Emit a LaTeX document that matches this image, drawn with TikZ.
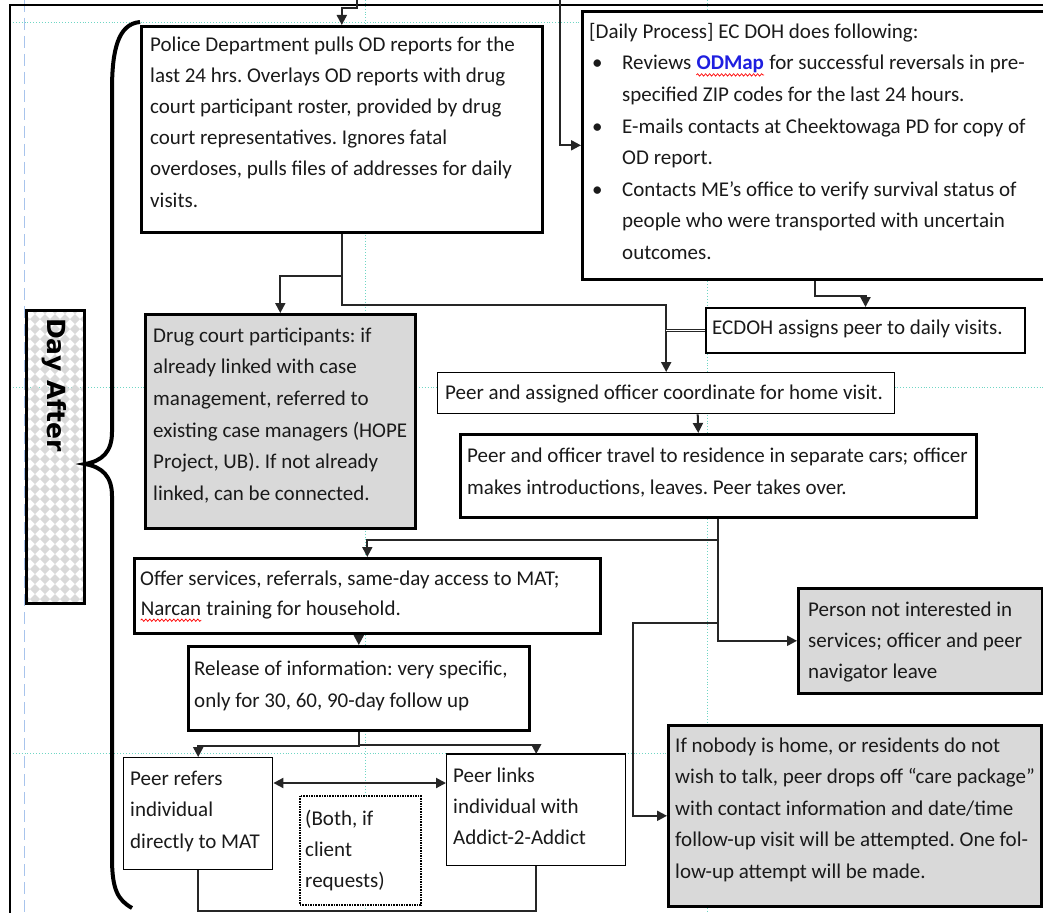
\documentclass[tikz,border=0pt]{standalone}
\usepackage{fontspec}
\setmainfont{Carlito}
\newfontfamily\dayfont{DejaVu Sans}
\usetikzlibrary{arrows.meta,calc,decorations.pathmorphing}
\definecolor{boxgray}{HTML}{D9D9D9}
\definecolor{textcol}{HTML}{1A1A1A}
\definecolor{guidecyan}{HTML}{6FD6C4}
\definecolor{guideblue}{HTML}{A8C4EC}
\definecolor{odblue}{HTML}{1F1FE0}
\newcommand\wav[1]{\tikz[baseline=(wv.base)]{\node[inner sep=0pt] (wv) {#1};
  \draw[red, line width=0.7pt, decorate, decoration={snake, amplitude=1.2pt, segment length=4pt}] ([yshift=-5pt]wv.base west) -- ([yshift=-5pt]wv.base east);}}
\newcommand\bul{\hspace*{3pt}\makebox[30pt][l]{\textbullet}}
\newcommand\ind{\hspace*{33pt}}
\frenchspacing
\begin{document}
\begin{tikzpicture}[x=1pt,y=-1pt,
  box/.style={draw=black, line width=2.6pt, fill=white, inner sep=0pt, anchor=north west},
  thinbox/.style={box, line width=1.4pt},
  graybox/.style={box, fill=boxgray},
  txt/.style={inner sep=0pt, anchor=north west, align=left, text=textcol, font=\fontsize{21}{31.5}\selectfont},
  conn/.style={draw=black!85, line width=2pt},
  arr/.style={conn, -{Triangle[length=10pt,width=10pt]}},
  guide/.style={draw=guidecyan, dotted, line width=0.9pt},
]
\clip (0,0) rectangle (1043,912);
\fill[white] (0,0) rectangle (1043,912);
% guides
\draw[draw=guideblue, line width=1pt, dash pattern=on 12pt off 6pt] (24,0) -- (24,912);
\draw[guide] (365,0) -- (365,912);
\draw[guide] (707,0) -- (707,912);
\draw[guide] (10,22) -- (580,22);
\draw[guide] (10,387) -- (1043,387);
\draw[guide] (10,753) -- (1043,753);
% frame
\draw[line width=1.2pt] (10,5) rectangle (1060,930);

% brace
\draw[line width=4pt] (140,22) .. controls (118,24) and (112,50) .. (112,90) -- (112,432)
  .. controls (112,452) and (102,461) .. (85,464) .. controls (102,467) and (112,476) .. (112,496)
  -- (112,858) .. controls (112,890) and (118,900) .. (132,908);

% Day After label
\begin{scope}
\clip (25,309) rectangle (83,602);
\foreach \i in {0,...,6}{\foreach \j in {0,...,30}{
  \fill[gray!30] (25+\i*10,304+\j*10) -- (30+\i*10,309+\j*10) -- (25+\i*10,314+\j*10) -- (20+\i*10,309+\j*10) -- cycle;
}}
\end{scope}
\node[box, fill=none, line width=3pt, minimum width=58pt, minimum height=293pt] (dayafter) at (25,309) {};
\node[rotate=-90, anchor=west, inner sep=0pt, font=\dayfont\bfseries\fontsize{25}{30}\selectfont] (daytxt) at (54,318) {Day After};

% boxes
\node[box, minimum width=401pt, minimum height=206pt] (police) at (140,25) {};
\node[box, minimum width=466pt, minimum height=268pt] (daily) at (581,10) {};
\node[box, line width=2pt, minimum width=319pt, minimum height=45pt] (ecdoh) at (705,307) {};
\node[thinbox, minimum width=457pt, minimum height=41pt] (coord) at (437,372) {};
\node[box, minimum width=516pt, minimum height=83pt] (travel) at (459,433) {};
\node[graybox, minimum width=270pt, minimum height=214pt] (drug) at (144,313) {};
\node[box, minimum width=466pt, minimum height=75pt] (offer) at (133,557) {};
\node[box, minimum width=341pt, minimum height=84pt] (release) at (187,645) {};
\node[thinbox, minimum width=149pt, minimum height=112pt] (refers) at (123,757) {};
\node[thinbox, minimum width=179pt, minimum height=111pt] (links) at (446,754) {};
\draw[line width=2.6pt] (links.north west) -- (links.north east);
\node[thinbox, line width=1.6pt, densely dotted, minimum width=121pt, minimum height=109pt] (both) at (299,795) {};
\node[graybox, minimum width=244pt, minimum height=105pt] (person) at (797,587) {};
\node[graybox, minimum width=373pt, minimum height=181pt] (nobody) at (667,724) {};

% texts
\node[txt, font=\fontsize{21}{31.2}\selectfont] (tpolice) at (150,29) {\strut Police Department pulls OD reports for the\\
last 24 hrs. Overlays OD reports with drug\\
court participant roster, provided by drug\\
court representatives. Ignores fatal\\
overdoses, pulls files of addresses for daily\\
visits.};
\node[txt, font=\fontsize{21}{31.6}\selectfont] (tdaily) at (589,16) {\strut [Daily Process] EC DOH does following:\\
\bul Reviews \wav{\textcolor{odblue}{\textbf{ODMap}}} for successful reversals in pre-\\
\ind specified ZIP codes for the last 24 hours.\\
\bul E-mails contacts at Cheektowaga PD for copy of\\
\ind OD report.\\
\bul Contacts ME’s office to verify survival status of\\
\ind people who were transported with uncertain\\
\ind outcomes.};
\node[txt] (tecdoh) at (712,312) {\strut ECDOH assigns peer to daily visits.};
\node[txt] (tcoord) at (445,377) {\strut Peer and assigned officer coordinate for home visit.};
\node[txt, font=\fontsize{21}{32}\selectfont] (ttravel) at (467,439.6) {\strut Peer and officer travel to residence in separate cars; officer\\
makes introductions, leaves. Peer takes over.};
\node[txt, font=\fontsize{21}{31.6}\selectfont] (tdrug) at (153,320) {\strut Drug court participants: if\\
already linked with case\\
management, referred to\\
existing case managers (HOPE\\
Project, UB). If not already\\
linked, can be connected.};
\node[txt, font=\fontsize{21}{30}\selectfont] (toffer) at (140,564) {\strut Offer services, referrals, same-day access to MAT;\\
\wav{Narcan} training for household.};
\node[txt, font=\fontsize{21}{32}\selectfont] (trelease) at (194,652.6) {\strut Release of information: very specific,\\
only for 30, 60, 90-day follow up};
\node[txt, font=\fontsize{21}{31.5}\selectfont] (trefers) at (130,763) {\strut Peer refers\\
individual\\
directly to MAT};
\node[txt, font=\fontsize{21}{31}\selectfont] (tlinks) at (453,761) {\strut Peer links\\
individual with\\
Addict-2-Addict};
\node[txt, font=\fontsize{21}{31}\selectfont] (tboth) at (305,803.3) {\strut (Both, if\\
client\\
requests)};
\node[txt, font=\fontsize{21}{31}\selectfont] (tperson) at (808,594.3) {\strut Person not interested in\\
services; officer and peer\\
navigator leave};
\node[txt, font=\fontsize{21}{31.5}\selectfont] (tnobody) at (675,730) {\strut If nobody is home, or residents do not\\
wish to talk, peer drops off “care package”\\
with contact information and date/time\\
follow-up visit will be attempted. One fol-\\
low-up attempt will be made.};

% connectors
\coordinate (topin) at (357,-2);
\coordinate (topin2) at (560,-2);
\draw[arr] (topin) -- ++(0,10) -| (police.north);
\draw[arr] (topin2) |- (daily.west);
\draw[arr] (police.south) -- ++(0,42) -| (drug.north);
\draw[arr] (police.south) -- ++(0,71) -| (coord.north);
\draw[conn, line width=0.9pt, double=white, double distance=1.4pt] (ecdoh.west) -- (ecdoh.west -| coord.north);
\draw[arr] (daily.south) -- ++(0,15) -| (ecdoh.north);
\draw[arr] ($(coord.south)+(31.5,0)$) -- ($(travel.north)+(-20,0)$);
\draw[arr] (travel.south) -- ++(0,21) -| (offer.north);
\draw[arr] (travel.south) |- (person.west);
\draw[arr] ($(travel.south)+(0,104)$) -- ++(-85,0) |- (nobody.west);
\draw[arr] (release.north |- offer.south) -- (release.north);
\draw[arr] (release.south) -- ++(0,14) -| (refers.north);
\draw[arr] (release.south) -- ++(0,13) -| (links.north);
\draw[conn, {Triangle[length=10pt,width=10pt]}-{Triangle[length=10pt,width=10pt]}] ($(refers.north east)+(0,26)$) -- ($(links.north west)+(0,29)$);
\draw[conn] (refers.south) -- ++(0,41) -| (links.south);
\end{tikzpicture}
\end{document}
